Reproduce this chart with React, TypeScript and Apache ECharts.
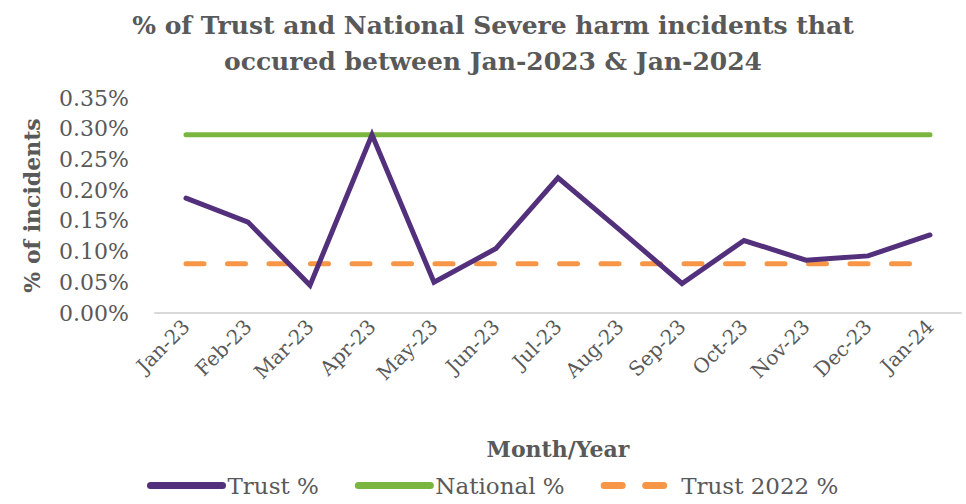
import React, { useEffect, useRef } from "react";
import * as echarts from "echarts";

const categories = ["Jan-23","Feb-23","Mar-23","Apr-23","May-23","Jun-23","Jul-23","Aug-23","Sep-23","Oct-23","Nov-23","Dec-23","Jan-24"];
const trust = [0.187, 0.148, 0.045, 0.29, 0.05, 0.105, 0.22, 0.135, 0.048, 0.118, 0.086, 0.093, 0.127];
const national = [0.29, 0.29, 0.29, 0.29, 0.29, 0.29, 0.29, 0.29, 0.29, 0.29, 0.29, 0.29, 0.29];
const trust2022 = [0.08, 0.08, 0.08, 0.08, 0.08, 0.08, 0.08, 0.08, 0.08, 0.08, 0.08, 0.08, 0.08];

const FONT = "DejaVu Serif";
const GREY = "#595959";

export default function App() {
  const ref = useRef<HTMLDivElement>(null);
  useEffect(() => {
    const chart = echarts.init(ref.current!, null, { renderer: "svg" });
    chart.setOption({
      animation: false,
      textStyle: { fontFamily: FONT, color: GREY },
      title: {
        text: "% of Trust and National Severe harm incidents that\noccured between Jan-2023 & Jan-2024",
        left: 488,
        textAlign: "center",
        top: 2,
        textStyle: { fontFamily: FONT, fontSize: 25, fontWeight: "bold", color: GREY, lineHeight: 36 },
      },
      grid: { left: 155, right: 5, top: 98, bottom: 191, containLabel: false },
      legend: {
        bottom: 2,
        left: 142,
        itemWidth: 72,
        itemHeight: 8,
        itemGap: 36,
        itemStyle: { opacity: 0 },
        lineStyle: { width: 7, cap: "round" },
        textStyle: { fontFamily: FONT, fontSize: 23, color: GREY },
        data: ["Trust %", "National %", "Trust 2022 %"],
      },
      xAxis: {
        type: "category",
        data: categories,
        boundaryGap: true,
        axisLine: { lineStyle: { color: "#d9d9d9", width: 2 } },
        axisTick: { show: false },
        axisLabel: { rotate: 45, fontFamily: FONT, fontSize: 20, color: GREY, margin: 10, interval: 0 },
        name: "Month/Year",
        nameLocation: "middle",
        nameGap: 125,
        nameTextStyle: { fontFamily: FONT, fontSize: 22, fontWeight: "bold", color: GREY },
      },
      yAxis: {
        type: "value",
        min: 0,
        max: 0.35,
        interval: 0.05,
        splitLine: { show: false },
        axisLine: { show: false },
        axisTick: { show: false },
        axisLabel: {
          fontFamily: FONT,
          fontSize: 22,
          color: GREY,
          margin: 26,
          formatter: (v: number) => v.toFixed(2) + "%",
        },
        name: "% of incidents",
        nameLocation: "middle",
        nameRotate: 90,
        nameGap: 112,
        nameTextStyle: { fontFamily: FONT, fontSize: 22, fontWeight: "bold", color: GREY },
      },
      series: [
        {
          name: "Trust %",
          type: "line",
          data: trust,
          symbol: "none",
          z: 3,
          itemStyle: { color: "#53307b" },
          lineStyle: { color: "#53307b", width: 5, cap: "round", join: "miter" },
        },
        {
          name: "National %",
          type: "line",
          data: national,
          symbol: "none",
          z: 2,
          itemStyle: { color: "#7ab540" },
          lineStyle: { color: "#7ab540", width: 5, cap: "round" },
        },
        {
          name: "Trust 2022 %",
          type: "line",
          data: trust2022,
          symbol: "none",
          z: 1,
          itemStyle: { color: "#f79646" },
          lineStyle: { color: "#f79646", width: 5, type: [18, 23.5], cap: "round" },
        },
      ],
    });
    return () => chart.dispose();
  }, []);
  return <div ref={ref} style={{ position: "absolute", left: 0, top: 0, width: 966, height: 504 }} />;
}
